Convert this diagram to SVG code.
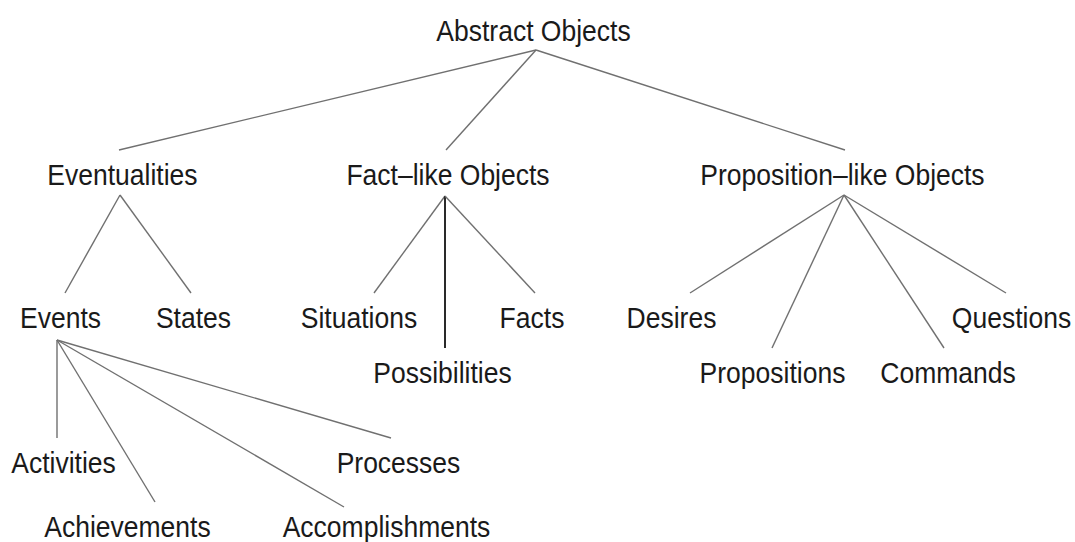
<svg xmlns="http://www.w3.org/2000/svg" width="1075" height="542" viewBox="0 0 1075 542">
<style>
text{font-family:"Liberation Sans",Arial,sans-serif;font-size:26.5px;fill:#1a1a1a;text-anchor:middle}
.e{stroke:#707070;stroke-width:1.4;fill:none}
.d{stroke:#2a2a2a;stroke-width:2;fill:none}
</style>
<rect width="1075" height="542" fill="#ffffff"/>
<g id="connectors">
<line class="e" x1="536" y1="50" x2="119" y2="150"/>
<line class="e" x1="536" y1="50" x2="446" y2="150"/>
<line class="e" x1="536" y1="50" x2="845" y2="150"/>
<line class="e" x1="120" y1="195" x2="65" y2="293"/>
<line class="e" x1="120" y1="195" x2="191" y2="293"/>
<line class="e" x1="445" y1="196" x2="374" y2="293"/>
<line class="d" x1="445" y1="196" x2="445" y2="348"/>
<line class="e" x1="445" y1="196" x2="535" y2="293"/>
<line class="e" x1="57" y1="340" x2="57" y2="438"/>
<line class="e" x1="57" y1="340" x2="155" y2="502"/>
<line class="e" x1="57" y1="340" x2="344" y2="507"/>
<line class="e" x1="57" y1="340" x2="391" y2="438"/>
<line class="e" x1="844" y1="195" x2="690" y2="293"/>
<line class="e" x1="844" y1="195" x2="772" y2="348"/>
<line class="e" x1="844" y1="195" x2="944" y2="348"/>
<line class="e" x1="844" y1="195" x2="1006" y2="293"/>
</g>
<g id="abstract-objects"><text x="533.5" y="0" transform="translate(0,41) scale(1,1.08)">Abstract Objects</text></g>
<g id="eventualities"><text x="122.5" y="0" transform="translate(0,185) scale(1,1.08)">Eventualities</text></g>
<g id="fact-like-objects"><text x="448" y="0" transform="translate(0,185) scale(1,1.08)">Fact–like Objects</text></g>
<g id="proposition-like-objects"><text x="842.5" y="0" transform="translate(0,185) scale(1,1.08)">Proposition–like Objects</text></g>
<g id="events"><text x="60.5" y="0" transform="translate(0,328) scale(1,1.08)">Events</text></g>
<g id="states"><text x="193.5" y="0" transform="translate(0,328) scale(1,1.08)">States</text></g>
<g id="situations"><text x="359" y="0" transform="translate(0,328) scale(1,1.08)">Situations</text></g>
<g id="facts"><text x="532" y="0" transform="translate(0,328) scale(1,1.08)">Facts</text></g>
<g id="possibilities"><text x="442.5" y="0" transform="translate(0,383) scale(1,1.08)">Possibilities</text></g>
<g id="desires"><text x="671.5" y="0" transform="translate(0,328) scale(1,1.08)">Desires</text></g>
<g id="questions"><text x="1011.5" y="0" transform="translate(0,328) scale(1,1.08)">Questions</text></g>
<g id="propositions"><text x="772.5" y="0" transform="translate(0,383) scale(1,1.08)">Propositions</text></g>
<g id="commands"><text x="948" y="0" transform="translate(0,383) scale(1,1.08)">Commands</text></g>
<g id="activities"><text x="63.5" y="0" transform="translate(0,473) scale(1,1.08)">Activities</text></g>
<g id="processes"><text x="398.5" y="0" transform="translate(0,473) scale(1,1.08)">Processes</text></g>
<g id="achievements"><text x="127.5" y="0" transform="translate(0,537) scale(1,1.08)">Achievements</text></g>
<g id="accomplishments"><text x="386.5" y="0" transform="translate(0,537) scale(1,1.08)">Accomplishments</text></g>
</svg>
